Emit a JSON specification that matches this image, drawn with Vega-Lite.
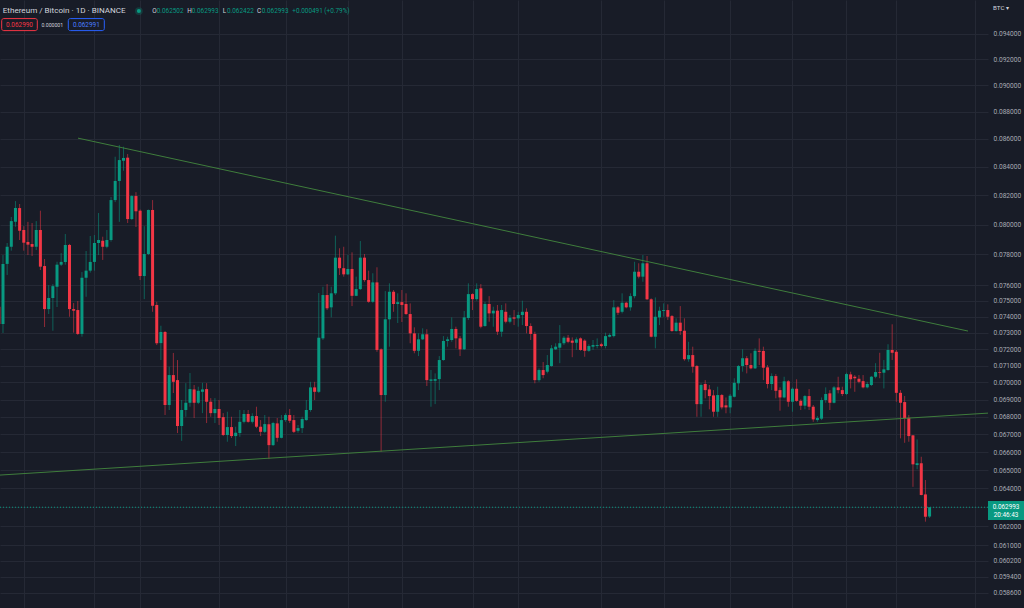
{
"$schema": "https://vega.github.io/schema/vega-lite/v6.json",
"width": 988, "height": 608,
"autosize": {"type": "none"},
"padding": {"left": 0, "top": 0, "right": 36, "bottom": 0},
"background": "#181c27",
"config": {"view": {"stroke": null}, "font": "Roboto", "text": {"font": "Roboto"}},
"resolve": {"axis": {"x": "independent", "y": "independent"}},
"datasets": {
"candles": [
{"i":-1,"o":0.07463,"h":0.07486,"l":0.07336,"c":0.07355},
{"i":0,"o":0.07355,"h":0.07796,"l":0.07299,"c":0.07738},
{"i":1,"o":0.07738,"h":0.07876,"l":0.07666,"c":0.07851},
{"i":2,"o":0.07851,"h":0.08051,"l":0.07825,"c":0.08023},
{"i":3,"o":0.08018,"h":0.08160,"l":0.07985,"c":0.08112},
{"i":4,"o":0.08112,"h":0.08140,"l":0.07896,"c":0.07958},
{"i":5,"o":0.07963,"h":0.07989,"l":0.07825,"c":0.07878},
{"i":6,"o":0.07883,"h":0.08018,"l":0.07796,"c":0.07865},
{"i":7,"o":0.07869,"h":0.08010,"l":0.07790,"c":0.07851},
{"i":8,"o":0.07851,"h":0.08023,"l":0.07829,"c":0.07963},
{"i":9,"o":0.07963,"h":0.08094,"l":0.07698,"c":0.07720},
{"i":10,"o":0.07724,"h":0.07770,"l":0.07336,"c":0.07448},
{"i":11,"o":0.07448,"h":0.07601,"l":0.07417,"c":0.07518},
{"i":12,"o":0.07518,"h":0.07607,"l":0.07313,"c":0.07594},
{"i":13,"o":0.07590,"h":0.07752,"l":0.07461,"c":0.07733},
{"i":14,"o":0.07733,"h":0.07809,"l":0.07724,"c":0.07751},
{"i":15,"o":0.07751,"h":0.07936,"l":0.07733,"c":0.07863},
{"i":16,"o":0.07863,"h":0.07870,"l":0.07400,"c":0.07448},
{"i":17,"o":0.07448,"h":0.07486,"l":0.07301,"c":0.07438},
{"i":18,"o":0.07442,"h":0.07499,"l":0.07287,"c":0.07293},
{"i":19,"o":0.07293,"h":0.07685,"l":0.07276,"c":0.07648},
{"i":20,"o":0.07648,"h":0.07823,"l":0.07526,"c":0.07694},
{"i":21,"o":0.07694,"h":0.07923,"l":0.07681,"c":0.07751},
{"i":22,"o":0.07751,"h":0.07929,"l":0.07694,"c":0.07876},
{"i":23,"o":0.07876,"h":0.08078,"l":0.07796,"c":0.07896},
{"i":24,"o":0.07891,"h":0.07918,"l":0.07764,"c":0.07851},
{"i":25,"o":0.07851,"h":0.07963,"l":0.07841,"c":0.07896},
{"i":26,"o":0.07896,"h":0.08188,"l":0.07885,"c":0.08167},
{"i":27,"o":0.08167,"h":0.08472,"l":0.08153,"c":0.08300},
{"i":28,"o":0.08300,"h":0.08556,"l":0.08018,"c":0.08448},
{"i":29,"o":0.08443,"h":0.08544,"l":0.08372,"c":0.08463},
{"i":30,"o":0.08465,"h":0.08491,"l":0.08010,"c":0.08037},
{"i":31,"o":0.08037,"h":0.08201,"l":0.08030,"c":0.08195},
{"i":32,"o":0.08195,"h":0.08222,"l":0.07983,"c":0.08090},
{"i":33,"o":0.08094,"h":0.08102,"l":0.07633,"c":0.07659},
{"i":34,"o":0.07659,"h":0.07989,"l":0.07511,"c":0.07803},
{"i":35,"o":0.07803,"h":0.08102,"l":0.07796,"c":0.08099},
{"i":36,"o":0.08099,"h":0.08167,"l":0.07431,"c":0.07469},
{"i":37,"o":0.07474,"h":0.07494,"l":0.07225,"c":0.07236},
{"i":38,"o":0.07237,"h":0.07344,"l":0.07134,"c":0.07305},
{"i":39,"o":0.07305,"h":0.07311,"l":0.06810,"c":0.06868},
{"i":40,"o":0.06868,"h":0.07094,"l":0.06839,"c":0.07044},
{"i":41,"o":0.07044,"h":0.07177,"l":0.06938,"c":0.07004},
{"i":42,"o":0.07014,"h":0.07134,"l":0.06707,"c":0.06747},
{"i":43,"o":0.06747,"h":0.06897,"l":0.06663,"c":0.06839},
{"i":44,"o":0.06839,"h":0.06996,"l":0.06800,"c":0.06881},
{"i":45,"o":0.06881,"h":0.07056,"l":0.06858,"c":0.06961},
{"i":46,"o":0.06959,"h":0.06985,"l":0.06793,"c":0.06881},
{"i":47,"o":0.06881,"h":0.06975,"l":0.06873,"c":0.06951},
{"i":48,"o":0.06945,"h":0.06998,"l":0.06821,"c":0.06959},
{"i":49,"o":0.06961,"h":0.06996,"l":0.06764,"c":0.06887},
{"i":50,"o":0.06887,"h":0.06908,"l":0.06800,"c":0.06821},
{"i":51,"o":0.06821,"h":0.06908,"l":0.06764,"c":0.06845},
{"i":52,"o":0.06845,"h":0.06897,"l":0.06753,"c":0.06793},
{"i":53,"o":0.06798,"h":0.06821,"l":0.06690,"c":0.06696},
{"i":54,"o":0.06696,"h":0.06829,"l":0.06658,"c":0.06741},
{"i":55,"o":0.06741,"h":0.06800,"l":0.06679,"c":0.06690},
{"i":56,"o":0.06690,"h":0.06743,"l":0.06634,"c":0.06709},
{"i":57,"o":0.06707,"h":0.06839,"l":0.06686,"c":0.06771},
{"i":58,"o":0.06771,"h":0.06839,"l":0.06762,"c":0.06816},
{"i":59,"o":0.06816,"h":0.06839,"l":0.06766,"c":0.06771},
{"i":60,"o":0.06771,"h":0.06820,"l":0.06762,"c":0.06804},
{"i":61,"o":0.06804,"h":0.06858,"l":0.06735,"c":0.06743},
{"i":62,"o":0.06743,"h":0.06781,"l":0.06690,"c":0.06714},
{"i":63,"o":0.06714,"h":0.06810,"l":0.06707,"c":0.06758},
{"i":64,"o":0.06757,"h":0.06800,"l":0.06561,"c":0.06639},
{"i":65,"o":0.06639,"h":0.06771,"l":0.06634,"c":0.06764},
{"i":66,"o":0.06762,"h":0.06793,"l":0.06658,"c":0.06680},
{"i":67,"o":0.06680,"h":0.06810,"l":0.06677,"c":0.06781},
{"i":68,"o":0.06781,"h":0.06820,"l":0.06771,"c":0.06810},
{"i":69,"o":0.06810,"h":0.06845,"l":0.06764,"c":0.06777},
{"i":70,"o":0.06781,"h":0.06810,"l":0.06707,"c":0.06714},
{"i":71,"o":0.06720,"h":0.06753,"l":0.06709,"c":0.06735},
{"i":72,"o":0.06735,"h":0.06800,"l":0.06707,"c":0.06787},
{"i":73,"o":0.06781,"h":0.06897,"l":0.06777,"c":0.06839},
{"i":74,"o":0.06839,"h":0.07004,"l":0.06829,"c":0.06971},
{"i":75,"o":0.06971,"h":0.07004,"l":0.06897,"c":0.06945},
{"i":76,"o":0.06945,"h":0.07550,"l":0.06938,"c":0.07270},
{"i":77,"o":0.07266,"h":0.07590,"l":0.07256,"c":0.07537},
{"i":78,"o":0.07537,"h":0.07607,"l":0.07442,"c":0.07453},
{"i":79,"o":0.07459,"h":0.07590,"l":0.07396,"c":0.07548},
{"i":80,"o":0.07548,"h":0.07925,"l":0.07537,"c":0.07779},
{"i":81,"o":0.07779,"h":0.07841,"l":0.07666,"c":0.07710},
{"i":82,"o":0.07710,"h":0.07851,"l":0.07655,"c":0.07670},
{"i":83,"o":0.07670,"h":0.07796,"l":0.07666,"c":0.07705},
{"i":84,"o":0.07705,"h":0.07814,"l":0.07467,"c":0.07532},
{"i":85,"o":0.07532,"h":0.07655,"l":0.07530,"c":0.07575},
{"i":86,"o":0.07575,"h":0.07889,"l":0.07569,"c":0.07779},
{"i":87,"o":0.07779,"h":0.07803,"l":0.07622,"c":0.07633},
{"i":88,"o":0.07633,"h":0.07694,"l":0.07488,"c":0.07494},
{"i":89,"o":0.07494,"h":0.07677,"l":0.07488,"c":0.07618},
{"i":90,"o":0.07618,"h":0.07716,"l":0.07184,"c":0.07195},
{"i":91,"o":0.07199,"h":0.07205,"l":0.06602,"c":0.06926},
{"i":92,"o":0.06926,"h":0.07562,"l":0.06887,"c":0.07384},
{"i":93,"o":0.07384,"h":0.07612,"l":0.07215,"c":0.07558},
{"i":94,"o":0.07558,"h":0.07569,"l":0.07431,"c":0.07480},
{"i":95,"o":0.07480,"h":0.07548,"l":0.07361,"c":0.07492},
{"i":96,"o":0.07492,"h":0.07569,"l":0.07367,"c":0.07474},
{"i":97,"o":0.07480,"h":0.07548,"l":0.07411,"c":0.07417},
{"i":98,"o":0.07417,"h":0.07484,"l":0.07236,"c":0.07297},
{"i":99,"o":0.07297,"h":0.07334,"l":0.07175,"c":0.07190},
{"i":100,"o":0.07190,"h":0.07297,"l":0.07158,"c":0.07260},
{"i":101,"o":0.07260,"h":0.07328,"l":0.07256,"c":0.07291},
{"i":102,"o":0.07291,"h":0.07322,"l":0.06979,"c":0.07014},
{"i":103,"o":0.07010,"h":0.07074,"l":0.06858,"c":0.07018},
{"i":104,"o":0.07010,"h":0.07054,"l":0.06873,"c":0.07020},
{"i":105,"o":0.07020,"h":0.07158,"l":0.06955,"c":0.07134},
{"i":106,"o":0.07134,"h":0.07280,"l":0.07130,"c":0.07250},
{"i":107,"o":0.07250,"h":0.07276,"l":0.07215,"c":0.07260},
{"i":108,"o":0.07256,"h":0.07396,"l":0.07245,"c":0.07324},
{"i":109,"o":0.07324,"h":0.07338,"l":0.07205,"c":0.07266},
{"i":110,"o":0.07266,"h":0.07280,"l":0.07158,"c":0.07199},
{"i":111,"o":0.07199,"h":0.07436,"l":0.07195,"c":0.07396},
{"i":112,"o":0.07392,"h":0.07612,"l":0.07380,"c":0.07543},
{"i":113,"o":0.07543,"h":0.07548,"l":0.07442,"c":0.07511},
{"i":114,"o":0.07511,"h":0.07612,"l":0.07501,"c":0.07575},
{"i":115,"o":0.07580,"h":0.07607,"l":0.07328,"c":0.07338},
{"i":116,"o":0.07342,"h":0.07494,"l":0.07338,"c":0.07480},
{"i":117,"o":0.07480,"h":0.07530,"l":0.07369,"c":0.07421},
{"i":118,"o":0.07421,"h":0.07463,"l":0.07338,"c":0.07438},
{"i":119,"o":0.07438,"h":0.07474,"l":0.07287,"c":0.07307},
{"i":120,"o":0.07307,"h":0.07474,"l":0.07276,"c":0.07442},
{"i":121,"o":0.07431,"h":0.07484,"l":0.07359,"c":0.07369},
{"i":122,"o":0.07369,"h":0.07411,"l":0.07359,"c":0.07394},
{"i":123,"o":0.07396,"h":0.07442,"l":0.07348,"c":0.07388},
{"i":124,"o":0.07390,"h":0.07431,"l":0.07338,"c":0.07411},
{"i":125,"o":0.07411,"h":0.07501,"l":0.07348,"c":0.07431},
{"i":126,"o":0.07431,"h":0.07453,"l":0.07297,"c":0.07342},
{"i":127,"o":0.07342,"h":0.07359,"l":0.07256,"c":0.07293},
{"i":128,"o":0.07293,"h":0.07307,"l":0.06995,"c":0.07014},
{"i":129,"o":0.07014,"h":0.07084,"l":0.07004,"c":0.07074},
{"i":130,"o":0.07074,"h":0.07122,"l":0.07025,"c":0.07044},
{"i":131,"o":0.07064,"h":0.07164,"l":0.07054,"c":0.07104},
{"i":132,"o":0.07098,"h":0.07225,"l":0.07094,"c":0.07205},
{"i":133,"o":0.07199,"h":0.07236,"l":0.07195,"c":0.07215},
{"i":134,"o":0.07209,"h":0.07348,"l":0.07115,"c":0.07236},
{"i":135,"o":0.07236,"h":0.07280,"l":0.07225,"c":0.07270},
{"i":136,"o":0.07270,"h":0.07287,"l":0.07236,"c":0.07245},
{"i":137,"o":0.07252,"h":0.07272,"l":0.07151,"c":0.07239},
{"i":138,"o":0.07239,"h":0.07272,"l":0.07195,"c":0.07260},
{"i":139,"o":0.07266,"h":0.07272,"l":0.07190,"c":0.07195},
{"i":140,"o":0.07252,"h":0.07260,"l":0.07154,"c":0.07190},
{"i":141,"o":0.07190,"h":0.07230,"l":0.07184,"c":0.07219},
{"i":142,"o":0.07215,"h":0.07256,"l":0.07195,"c":0.07225},
{"i":143,"o":0.07219,"h":0.07266,"l":0.07205,"c":0.07225},
{"i":144,"o":0.07230,"h":0.07239,"l":0.07211,"c":0.07219},
{"i":145,"o":0.07219,"h":0.07301,"l":0.07205,"c":0.07280},
{"i":146,"o":0.07276,"h":0.07297,"l":0.07272,"c":0.07287},
{"i":147,"o":0.07280,"h":0.07505,"l":0.07272,"c":0.07459},
{"i":148,"o":0.07459,"h":0.07467,"l":0.07411,"c":0.07425},
{"i":149,"o":0.07431,"h":0.07548,"l":0.07421,"c":0.07488},
{"i":150,"o":0.07488,"h":0.07494,"l":0.07453,"c":0.07459},
{"i":151,"o":0.07459,"h":0.07548,"l":0.07438,"c":0.07530},
{"i":152,"o":0.07530,"h":0.07752,"l":0.07516,"c":0.07687},
{"i":153,"o":0.07687,"h":0.07742,"l":0.07644,"c":0.07655},
{"i":154,"o":0.07655,"h":0.07796,"l":0.07622,"c":0.07742},
{"i":155,"o":0.07742,"h":0.07790,"l":0.07505,"c":0.07510},
{"i":156,"o":0.07510,"h":0.07516,"l":0.07272,"c":0.07276},
{"i":157,"o":0.07276,"h":0.07522,"l":0.07205,"c":0.07400},
{"i":158,"o":0.07396,"h":0.07463,"l":0.07348,"c":0.07438},
{"i":159,"o":0.07436,"h":0.07484,"l":0.07400,"c":0.07442},
{"i":160,"o":0.07442,"h":0.07478,"l":0.07380,"c":0.07400},
{"i":161,"o":0.07404,"h":0.07411,"l":0.07307,"c":0.07311},
{"i":162,"o":0.07311,"h":0.07390,"l":0.07307,"c":0.07363},
{"i":163,"o":0.07363,"h":0.07467,"l":0.07287,"c":0.07311},
{"i":164,"o":0.07313,"h":0.07390,"l":0.07130,"c":0.07139},
{"i":165,"o":0.07139,"h":0.07245,"l":0.07124,"c":0.07164},
{"i":166,"o":0.07164,"h":0.07215,"l":0.07058,"c":0.07094},
{"i":167,"o":0.07098,"h":0.07104,"l":0.06800,"c":0.06873},
{"i":168,"o":0.06873,"h":0.06995,"l":0.06800,"c":0.06985},
{"i":169,"o":0.06991,"h":0.07014,"l":0.06907,"c":0.06955},
{"i":170,"o":0.06959,"h":0.06985,"l":0.06843,"c":0.06920},
{"i":171,"o":0.06924,"h":0.06955,"l":0.06800,"c":0.06829},
{"i":172,"o":0.06829,"h":0.06975,"l":0.06800,"c":0.06926},
{"i":173,"o":0.06926,"h":0.06932,"l":0.06843,"c":0.06854},
{"i":174,"o":0.06866,"h":0.06912,"l":0.06820,"c":0.06854},
{"i":175,"o":0.06854,"h":0.06932,"l":0.06820,"c":0.06922},
{"i":176,"o":0.06916,"h":0.07025,"l":0.06912,"c":0.06998},
{"i":177,"o":0.06995,"h":0.07104,"l":0.06955,"c":0.07098},
{"i":178,"o":0.07098,"h":0.07199,"l":0.07064,"c":0.07145},
{"i":179,"o":0.07145,"h":0.07158,"l":0.07054,"c":0.07104},
{"i":180,"o":0.07104,"h":0.07175,"l":0.07078,"c":0.07084},
{"i":181,"o":0.07084,"h":0.07205,"l":0.07080,"c":0.07190},
{"i":182,"o":0.07190,"h":0.07266,"l":0.07104,"c":0.07184},
{"i":183,"o":0.07189,"h":0.07215,"l":0.07014,"c":0.07088},
{"i":184,"o":0.07090,"h":0.07104,"l":0.06965,"c":0.06991},
{"i":185,"o":0.06991,"h":0.07054,"l":0.06955,"c":0.07038},
{"i":186,"o":0.07038,"h":0.07050,"l":0.06907,"c":0.06951},
{"i":187,"o":0.06955,"h":0.06971,"l":0.06835,"c":0.06912},
{"i":188,"o":0.06912,"h":0.07034,"l":0.06907,"c":0.07007},
{"i":189,"o":0.07007,"h":0.07014,"l":0.06858,"c":0.06887},
{"i":190,"o":0.06887,"h":0.06971,"l":0.06829,"c":0.06963},
{"i":191,"o":0.06963,"h":0.07019,"l":0.06887,"c":0.06892},
{"i":192,"o":0.06892,"h":0.06901,"l":0.06839,"c":0.06864},
{"i":193,"o":0.06864,"h":0.06926,"l":0.06843,"c":0.06920},
{"i":194,"o":0.06920,"h":0.06961,"l":0.06839,"c":0.06858},
{"i":195,"o":0.06858,"h":0.06868,"l":0.06771,"c":0.06785},
{"i":196,"o":0.06781,"h":0.06804,"l":0.06771,"c":0.06793},
{"i":197,"o":0.06789,"h":0.06912,"l":0.06781,"c":0.06897},
{"i":198,"o":0.06897,"h":0.06971,"l":0.06881,"c":0.06932},
{"i":199,"o":0.06936,"h":0.06955,"l":0.06839,"c":0.06881},
{"i":200,"o":0.06881,"h":0.06979,"l":0.06877,"c":0.06971},
{"i":201,"o":0.06971,"h":0.07034,"l":0.06936,"c":0.06955},
{"i":202,"o":0.06955,"h":0.06975,"l":0.06920,"c":0.06932},
{"i":203,"o":0.06932,"h":0.07058,"l":0.06926,"c":0.07050},
{"i":204,"o":0.07048,"h":0.07064,"l":0.06965,"c":0.07019},
{"i":205,"o":0.07034,"h":0.07044,"l":0.06945,"c":0.07025},
{"i":206,"o":0.07022,"h":0.07044,"l":0.06995,"c":0.07004},
{"i":207,"o":0.07008,"h":0.07044,"l":0.06965,"c":0.06971},
{"i":208,"o":0.06971,"h":0.07004,"l":0.06965,"c":0.06991},
{"i":209,"o":0.06985,"h":0.07038,"l":0.06979,"c":0.07034},
{"i":210,"o":0.07034,"h":0.07115,"l":0.07025,"c":0.07062},
{"i":211,"o":0.07062,"h":0.07178,"l":0.07025,"c":0.07058},
{"i":212,"o":0.07058,"h":0.07134,"l":0.06965,"c":0.07078},
{"i":213,"o":0.07074,"h":0.07230,"l":0.07070,"c":0.07195},
{"i":214,"o":0.07195,"h":0.07353,"l":0.07134,"c":0.07178},
{"i":215,"o":0.07184,"h":0.07195,"l":0.06887,"c":0.06939},
{"i":216,"o":0.06939,"h":0.06955,"l":0.06677,"c":0.06881},
{"i":217,"o":0.06885,"h":0.06920,"l":0.06652,"c":0.06791},
{"i":218,"o":0.06794,"h":0.06810,"l":0.06658,"c":0.06690},
{"i":219,"o":0.06694,"h":0.06696,"l":0.06409,"c":0.06532},
{"i":220,"o":0.06528,"h":0.06671,"l":0.06505,"c":0.06538},
{"i":221,"o":0.06538,"h":0.06574,"l":0.06363,"c":0.06365},
{"i":222,"o":0.06368,"h":0.06446,"l":0.06223,"c":0.06249},
{"i":223,"o":0.062502,"h":0.062993,"l":0.062422,"c":0.062993}
],
"lines": [
{"line":"upper","i":18.05,"p":0.08606},
{"line":"upper","i":232.25,"p":0.07311},
{"line":"lower","i":-0.72,"p":0.06473},
{"line":"lower","i":237.06,"p":0.06821}
]
},
"layer": [
{
"data": {"name": "candles"},
"mark": {"type": "rule", "strokeWidth": 1, "opacity": 0.55, "clip": true},
"encoding": {
"x": {"field": "i", "type": "quantitative", "scale": {"domain": [-0.722, 237.06], "nice": false, "zero": false, "padding": 0},
 "axis": {"orient": "bottom", "values": [5,22,33,52,68,83,96,113,124,144,159,175,190,203,215,234], "labels": false, "ticks": false, "domain": false, "grid": true, "gridColor": "#252935", "gridWidth": 1, "title": null}},
"y": {"field": "l", "type": "quantitative", "scale": {"type": "log", "domain": [0.05785, 0.09672], "nice": false},
 "axis": {"orient": "right", "values": [0.094,0.092,0.09,0.088,0.086,0.084,0.082,0.08,0.078,0.076,0.075,0.074,0.073,0.072,0.071,0.07,0.069,0.068,0.067,0.066,0.065,0.064,0.063,0.062,0.061,0.0602,0.0594,0.0586,0.0578],
  "labelExpr": "abs(datum.value - 0.063) < 0.0000001 ? '' : format(datum.value, '.6f')",
  "labelOverlap": false, "labelFlush": false, "labelBound": false, "ticks": false, "tickSize": 0, "domain": false, "grid": true, "gridColor": "#252935", "gridWidth": 1,
  "labelPadding": 5, "labelFontSize": 6.6, "labelColor": "#a7aab3", "labelFont": "Roboto", "labelAlign": "left", "title": null}},
"y2": {"field": "h"},
"color": {"condition": {"test": "datum.c >= datum.o", "value": "#089981"}, "value": "#f23645"}
}
},
{
"data": {"name": "candles"},
"mark": {"type": "bar", "width": 3, "clip": true},
"encoding": {
"x": {"field": "i", "type": "quantitative", "scale": {"domain": [-0.722, 237.06], "nice": false, "zero": false, "padding": 0}, "axis": null},
"y": {"field": "o", "type": "quantitative", "scale": {"type": "log", "domain": [0.05785, 0.09672], "nice": false}, "axis": null},
"y2": {"field": "c"},
"color": {"condition": {"test": "datum.c >= datum.o", "value": "#089981"}, "value": "#f23645"}
}
},
{
"data": {"name": "lines"},
"mark": {"type": "line", "strokeWidth": 1, "color": "#3f7d3c"},
"encoding": {
"x": {"field": "i", "type": "quantitative", "scale": {"domain": [-0.722, 237.06], "nice": false, "zero": false, "padding": 0}, "axis": null},
"y": {"field": "p", "type": "quantitative", "scale": {"type": "log", "domain": [0.05785, 0.09672], "nice": false}, "axis": null},
"detail": {"field": "line"}
}
},
{
"data": {"values": [{}]},
"mark": {"type": "rule", "strokeDash": [1, 2], "color": "#089981", "strokeWidth": 1},
"encoding": {
"y": {"datum": 0.062993, "type": "quantitative", "scale": {"type": "log", "domain": [0.05785, 0.09672], "nice": false}, "axis": null}
}
},
{
"data": {"values": [{}]},
"mark": {"type": "rect", "fill": "#089981"},
"encoding": {
"x": {"datum": 237.06, "type": "quantitative", "scale": {"domain": [-0.722, 237.06], "nice": false, "zero": false, "padding": 0}, "axis": null},
"x2": {"datum": 245.73},
"y": {"datum": 0.063324, "type": "quantitative", "scale": {"type": "log", "domain": [0.05785, 0.09672], "nice": false}, "axis": null},
"y2": {"datum": 0.062315}
}
},
{
"data": {"values": [{}]},
"mark": {"type": "text", "text": "0.062993", "align": "center", "baseline": "middle", "fontSize": 6.4, "color": "#ffffff"},
"encoding": {
"x": {"datum": 241.4, "type": "quantitative", "scale": {"domain": [-0.722, 237.06], "nice": false, "zero": false, "padding": 0}, "axis": null},
"y": {"datum": 0.06303, "type": "quantitative", "scale": {"type": "log", "domain": [0.05785, 0.09672], "nice": false}, "axis": null}
}
},
{
"data": {"values": [{}]},
"mark": {"type": "text", "text": "20:46:43", "align": "center", "baseline": "middle", "fontSize": 6.4, "color": "#ffffff"},
"encoding": {
"x": {"datum": 241.4, "type": "quantitative", "scale": {"domain": [-0.722, 237.06], "nice": false, "zero": false, "padding": 0}, "axis": null},
"y": {"datum": 0.062606, "type": "quantitative", "scale": {"type": "log", "domain": [0.05785, 0.09672], "nice": false}, "axis": null}
}
},
{
"data": {"values": [{}]},
"mark": {"type": "text", "text": "BTC ▾", "align": "left", "baseline": "middle", "fontSize": 6.2, "color": "#d1d4dc"},
"encoding": {
"x": {"datum": 238.27, "type": "quantitative", "scale": {"domain": [-0.722, 237.06], "nice": false, "zero": false, "padding": 0}, "axis": null},
"y": {"datum": 0.09606, "type": "quantitative", "scale": {"type": "log", "domain": [0.05785, 0.09672], "nice": false}, "axis": null}
}
},
{
"data": {"values": [{}]},
"mark": {"type": "text", "text": "Ethereum / Bitcoin · 1D · BINANCE", "align": "left", "baseline": "middle", "fontSize": 8.1, "color": "#d1d4dc"},
"encoding": {
"x": {"datum": -0.07, "type": "quantitative", "scale": {"domain": [-0.722, 237.06], "nice": false, "zero": false, "padding": 0}, "axis": null},
"y": {"datum": 0.09582, "type": "quantitative", "scale": {"type": "log", "domain": [0.05785, 0.09672], "nice": false}, "axis": null}
}
},
{
"data": {"values": [{}]},
"mark": {"type": "point", "filled": true, "size": 60, "color": "#089981", "opacity": 0.25},
"encoding": {
"x": {"datum": 32.7, "type": "quantitative", "scale": {"domain": [-0.722, 237.06], "nice": false, "zero": false, "padding": 0}, "axis": null},
"y": {"datum": 0.09582, "type": "quantitative", "scale": {"type": "log", "domain": [0.05785, 0.09672], "nice": false}, "axis": null}
}
},
{
"data": {"values": [{}]},
"mark": {"type": "point", "filled": true, "size": 16, "color": "#089981", "opacity": 1},
"encoding": {
"x": {"datum": 32.7, "type": "quantitative", "scale": {"domain": [-0.722, 237.06], "nice": false, "zero": false, "padding": 0}, "axis": null},
"y": {"datum": 0.09582, "type": "quantitative", "scale": {"type": "log", "domain": [0.05785, 0.09672], "nice": false}, "axis": null}
}
},
{
"data": {"values": [{}]},
"mark": {"type": "text", "text": "O", "align": "left", "baseline": "middle", "fontSize": 6.4, "color": "#d1d4dc"},
"encoding": {
"x": {"datum": 35.93, "type": "quantitative", "scale": {"domain": [-0.722, 237.06], "nice": false, "zero": false, "padding": 0}, "axis": null},
"y": {"datum": 0.09582, "type": "quantitative", "scale": {"type": "log", "domain": [0.05785, 0.09672], "nice": false}, "axis": null}
}
},
{
"data": {"values": [{}]},
"mark": {"type": "text", "text": "0.062502", "align": "left", "baseline": "middle", "fontSize": 6.4, "color": "#089981"},
"encoding": {
"x": {"datum": 36.99, "type": "quantitative", "scale": {"domain": [-0.722, 237.06], "nice": false, "zero": false, "padding": 0}, "axis": null},
"y": {"datum": 0.09582, "type": "quantitative", "scale": {"type": "log", "domain": [0.05785, 0.09672], "nice": false}, "axis": null}
}
},
{
"data": {"values": [{}]},
"mark": {"type": "text", "text": "H", "align": "left", "baseline": "middle", "fontSize": 6.4, "color": "#d1d4dc"},
"encoding": {
"x": {"datum": 44.36, "type": "quantitative", "scale": {"domain": [-0.722, 237.06], "nice": false, "zero": false, "padding": 0}, "axis": null},
"y": {"datum": 0.09582, "type": "quantitative", "scale": {"type": "log", "domain": [0.05785, 0.09672], "nice": false}, "axis": null}
}
},
{
"data": {"values": [{}]},
"mark": {"type": "text", "text": "0.062993", "align": "left", "baseline": "middle", "fontSize": 6.4, "color": "#089981"},
"encoding": {
"x": {"datum": 45.42, "type": "quantitative", "scale": {"domain": [-0.722, 237.06], "nice": false, "zero": false, "padding": 0}, "axis": null},
"y": {"datum": 0.09582, "type": "quantitative", "scale": {"type": "log", "domain": [0.05785, 0.09672], "nice": false}, "axis": null}
}
},
{
"data": {"values": [{}]},
"mark": {"type": "text", "text": "L", "align": "left", "baseline": "middle", "fontSize": 6.4, "color": "#d1d4dc"},
"encoding": {
"x": {"datum": 52.88, "type": "quantitative", "scale": {"domain": [-0.722, 237.06], "nice": false, "zero": false, "padding": 0}, "axis": null},
"y": {"datum": 0.09582, "type": "quantitative", "scale": {"type": "log", "domain": [0.05785, 0.09672], "nice": false}, "axis": null}
}
},
{
"data": {"values": [{}]},
"mark": {"type": "text", "text": "0.062422", "align": "left", "baseline": "middle", "fontSize": 6.4, "color": "#089981"},
"encoding": {
"x": {"datum": 53.91, "type": "quantitative", "scale": {"domain": [-0.722, 237.06], "nice": false, "zero": false, "padding": 0}, "axis": null},
"y": {"datum": 0.09582, "type": "quantitative", "scale": {"type": "log", "domain": [0.05785, 0.09672], "nice": false}, "axis": null}
}
},
{
"data": {"values": [{}]},
"mark": {"type": "text", "text": "C", "align": "left", "baseline": "middle", "fontSize": 6.4, "color": "#d1d4dc"},
"encoding": {
"x": {"datum": 61.13, "type": "quantitative", "scale": {"domain": [-0.722, 237.06], "nice": false, "zero": false, "padding": 0}, "axis": null},
"y": {"datum": 0.09582, "type": "quantitative", "scale": {"type": "log", "domain": [0.05785, 0.09672], "nice": false}, "axis": null}
}
},
{
"data": {"values": [{}]},
"mark": {"type": "text", "text": "0.062993", "align": "left", "baseline": "middle", "fontSize": 6.4, "color": "#089981"},
"encoding": {
"x": {"datum": 62.26, "type": "quantitative", "scale": {"domain": [-0.722, 237.06], "nice": false, "zero": false, "padding": 0}, "axis": null},
"y": {"datum": 0.09582, "type": "quantitative", "scale": {"type": "log", "domain": [0.05785, 0.09672], "nice": false}, "axis": null}
}
},
{
"data": {"values": [{}]},
"mark": {"type": "text", "text": "+0.000491 (+0.79%)", "align": "left", "baseline": "middle", "fontSize": 6.4, "color": "#089981"},
"encoding": {
"x": {"datum": 69.63, "type": "quantitative", "scale": {"domain": [-0.722, 237.06], "nice": false, "zero": false, "padding": 0}, "axis": null},
"y": {"datum": 0.09582, "type": "quantitative", "scale": {"type": "log", "domain": [0.05785, 0.09672], "nice": false}, "axis": null}
}
},
{
"data": {"values": [{}]},
"mark": {"type": "rect", "fill": "#181c27", "stroke": "#f23645", "strokeWidth": 1, "cornerRadius": 2},
"encoding": {
"x": {"datum": -0.313, "type": "quantitative", "scale": {"domain": [-0.722, 237.06], "nice": false, "zero": false, "padding": 0}, "axis": null},
"x2": {"datum": 8.255},
"y": {"datum": 0.095212, "type": "quantitative", "scale": {"type": "log", "domain": [0.05785, 0.09672], "nice": false}, "axis": null},
"y2": {"datum": 0.09425}
}
},
{
"data": {"values": [{}]},
"mark": {"type": "text", "text": "0.062990", "align": "center", "baseline": "middle", "fontSize": 6.4, "color": "#f23645"},
"encoding": {
"x": {"datum": 3.971, "type": "quantitative", "scale": {"domain": [-0.722, 237.06], "nice": false, "zero": false, "padding": 0}, "axis": null},
"y": {"datum": 0.09473, "type": "quantitative", "scale": {"type": "log", "domain": [0.05785, 0.09672], "nice": false}, "axis": null}
}
},
{
"data": {"values": [{}]},
"mark": {"type": "text", "text": "0.000001", "align": "center", "baseline": "middle", "fontSize": 5.2, "color": "#d1d4dc"},
"encoding": {
"x": {"datum": 11.87, "type": "quantitative", "scale": {"domain": [-0.722, 237.06], "nice": false, "zero": false, "padding": 0}, "axis": null},
"y": {"datum": 0.09473, "type": "quantitative", "scale": {"type": "log", "domain": [0.05785, 0.09672], "nice": false}, "axis": null}
}
},
{
"data": {"values": [{}]},
"mark": {"type": "rect", "fill": "#181c27", "stroke": "#2962ff", "strokeWidth": 1, "cornerRadius": 2},
"encoding": {
"x": {"datum": 15.716, "type": "quantitative", "scale": {"domain": [-0.722, 237.06], "nice": false, "zero": false, "padding": 0}, "axis": null},
"x2": {"datum": 24.38},
"y": {"datum": 0.095212, "type": "quantitative", "scale": {"type": "log", "domain": [0.05785, 0.09672], "nice": false}, "axis": null},
"y2": {"datum": 0.09425}
}
},
{
"data": {"values": [{}]},
"mark": {"type": "text", "text": "0.062991", "align": "center", "baseline": "middle", "fontSize": 6.4, "color": "#4a7dff"},
"encoding": {
"x": {"datum": 20.05, "type": "quantitative", "scale": {"domain": [-0.722, 237.06], "nice": false, "zero": false, "padding": 0}, "axis": null},
"y": {"datum": 0.09473, "type": "quantitative", "scale": {"type": "log", "domain": [0.05785, 0.09672], "nice": false}, "axis": null}
}
}
]
}
